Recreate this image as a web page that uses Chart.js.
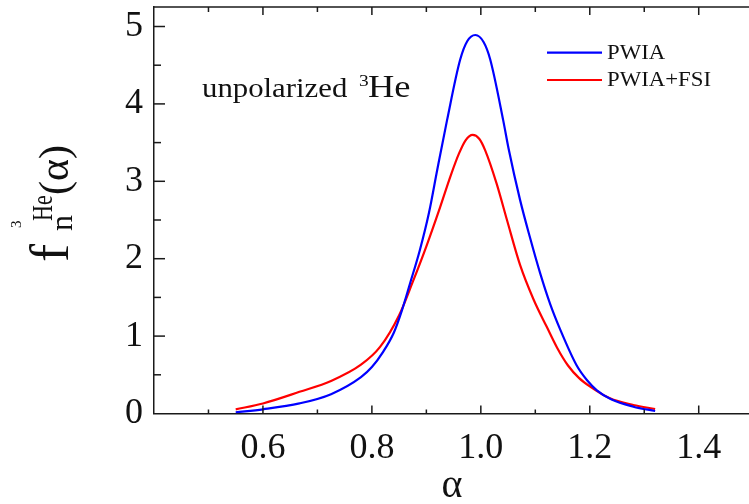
<!DOCTYPE html>
<html>
<head>
<meta charset="utf-8">
<script src="https://cdn.jsdelivr.net/npm/chart.js@4.4.1/dist/chart.umd.min.js"></script>
<style>
  html, body { margin: 0; padding: 0; background: #fff; }
  #wrap { width: 749px; height: 504px; }
</style>
</head>
<body>
<div id="wrap"><canvas id="chart"></canvas></div>
<script>
/* Data */

const seriesNames = ["PWIA", "PWIA+FSI"];

const alphaPwia = [0.55, 0.60, 0.667, 0.725, 0.78, 0.80, 0.82, 0.84, 0.855, 0.87, 0.888, 0.905, 0.92, 0.938, 0.962, 0.975, 0.99,
    1.005, 1.017, 1.041, 1.051, 1.072, 1.09, 1.109, 1.127, 1.146, 1.176, 1.195, 1.213, 1.24, 1.28, 1.32];
const fPwia = [0.015, 0.054, 0.13, 0.25, 0.47, 0.60, 0.79, 1.04, 1.33, 1.68, 2.11, 2.60, 3.15, 3.79, 4.57, 4.81, 4.89,
    4.80, 4.58, 3.79, 3.42, 2.76, 2.28, 1.81, 1.42, 1.08, 0.62, 0.43, 0.30, 0.18, 0.088, 0.032];

const alphaFsi = [0.55, 0.60, 0.667, 0.725, 0.78, 0.815, 0.85, 0.875, 0.90, 0.925, 0.945, 0.96, 0.972, 0.985, 0.997,
    1.008, 1.029, 1.048, 1.072, 1.097, 1.121, 1.14, 1.16, 1.18, 1.20, 1.237, 1.28, 1.32];
const fFsi = [0.054, 0.13, 0.28, 0.42, 0.63, 0.86, 1.27, 1.70, 2.16, 2.66, 3.08, 3.36, 3.53, 3.60, 3.55,
    3.40, 2.97, 2.50, 1.92, 1.47, 1.12, 0.85, 0.62, 0.46, 0.35, 0.196, 0.11, 0.058];

const xTickValues = [0.6, 0.8, 1.0, 1.2, 1.4];
const yTickValues = [0, 1, 2, 3, 4, 5];

const serif = "'Liberation Serif', 'DejaVu Serif', serif";
const axisColor = "#1a1a1a";

// the source picture is a bit wider than tall, so free text gets stretched
function stretchedText(ctx, text, x, y, font, sx, sy) {
    ctx.save();
    ctx.translate(x, y);
    ctx.scale(sx, sy);
    ctx.font = font;
    ctx.fillText(text, 0, 0);
    ctx.restore();
}

/* Inward ticks, top frame line, titles, legend and label */

const framePlugin = {
    id: "frame",
    afterDraw(chart) {
        const ctx = chart.ctx;
        const area = chart.chartArea;
        const xs = chart.scales.x;
        const ys = chart.scales.y;

        ctx.save();
        ctx.strokeStyle = axisColor;
        ctx.lineWidth = 1.5;

        ctx.beginPath();
        ctx.moveTo(area.left, area.top);
        ctx.lineTo(area.right, area.top);
        ctx.stroke();

        for (let i = 5; i <= 14; i++) {
            const px = xs.getPixelForValue(i / 10);
            const major = i % 2 === 0;
            ctx.beginPath();
            ctx.moveTo(px, area.bottom);
            ctx.lineTo(px, area.bottom - (major ? 8 : 4));
            ctx.moveTo(px, area.top);
            ctx.lineTo(px, area.top + (major ? 8 : 5));
            ctx.stroke();
        }

        for (let i = 1; i <= 10; i++) {
            const py = ys.getPixelForValue(i / 2);
            const major = i % 2 === 0;
            ctx.beginPath();
            ctx.moveTo(area.left, py);
            ctx.lineTo(area.left + (major ? 11 : 7), py);
            ctx.stroke();
        }

        // x title
        ctx.fillStyle = "#111";
        ctx.font = "40px " + serif;
        ctx.textAlign = "center";
        ctx.textBaseline = "alphabetic";
        ctx.fillText("α", 452, 497);

        // y title, rotated
        ctx.save();
        ctx.translate(68, 262);
        ctx.rotate(-Math.PI / 2);
        ctx.textAlign = "left";
        ctx.font = "54px " + serif;
        ctx.fillText("f", 0, 0);
        ctx.font = "32px " + serif;
        ctx.fillText("n", 31, 4);
        ctx.font = "15px " + serif;
        ctx.fillText("3", 34, -47);
        stretchedText(ctx, "He", 41, -16, "22px " + serif, 1, 1.35);
        ctx.font = "42px " + serif;
        ctx.fillText("(α)", 67, 0);
        ctx.restore();

        // annotation
        ctx.textAlign = "left";
        stretchedText(ctx, "unpolarized", 202, 97, "27px " + serif, 1.14, 1);
        stretchedText(ctx, "3", 359, 86, "17px " + serif, 1.14, 1);
        stretchedText(ctx, "He", 368, 97, "32px " + serif, 1.14, 1);

        // legend
        const legendY = [52.7, 80];
        ctx.textBaseline = "middle";
        chart.data.datasets.forEach((ds, i) => {
            ctx.strokeStyle = ds.borderColor;
            ctx.lineWidth = 2.2;
            ctx.beginPath();
            ctx.moveTo(547, legendY[i]);
            ctx.lineTo(602, legendY[i]);
            ctx.stroke();
            ctx.fillStyle = "#111";
            stretchedText(ctx, ds.label, 607, legendY[i] + 1, "20px " + serif, 1.14, 1);
        });

        ctx.restore();
    }
};

const chart = new Chart(document.querySelector("#chart"), {
    type: "line",
    data: {
        datasets: [
            {
                label: seriesNames[0],
                data: alphaPwia.map((a, i) => ({ x: a, y: fPwia[i] })),
                borderColor: "#0000ff",
                borderWidth: 2.2,
                pointRadius: 0,
                cubicInterpolationMode: "monotone",
                fill: false
            },
            {
                label: seriesNames[1],
                data: alphaFsi.map((a, i) => ({ x: a, y: fFsi[i] })),
                borderColor: "#ff0000",
                borderWidth: 2.2,
                pointRadius: 0,
                cubicInterpolationMode: "monotone",
                fill: false
            }
        ]
    },
    options: {
        responsive: true,
        maintainAspectRatio: false,
        animation: false,
        devicePixelRatio: 1,
        layout: {
            padding: { top: 7, right: 0, left: 0, bottom: 0 }
        },
        plugins: {
            legend: { display: false },
            tooltip: { enabled: false }
        },
        scales: {
            x: {
                type: "linear",
                min: 0.4,
                max: 1.4923,
                afterBuildTicks: scale => {
                    scale.ticks = xTickValues.map(v => ({ value: v }));
                },
                afterFit: scale => {
                    scale.height = 90.5;
                    scale.paddingLeft = 0;
                    scale.paddingRight = 0;
                },
                grid: { display: false, drawTicks: false },
                border: { display: true, color: axisColor, width: 1.5 },
                ticks: {
                    padding: 13,
                    color: "#111",
                    maxRotation: 0,
                    font: { family: serif, size: 36 },
                    callback: v => Number(v).toFixed(1)
                }
            },
            y: {
                min: 0,
                max: 5.252,
                afterBuildTicks: scale => {
                    scale.ticks = yTickValues.map(v => ({ value: v }));
                },
                afterFit: scale => {
                    scale.width = 154;
                    scale.paddingTop = 0;
                    scale.paddingBottom = 0;
                },
                grid: { display: false, drawTicks: false },
                border: { display: true, color: axisColor, width: 1.5 },
                ticks: {
                    padding: 11,
                    color: "#111",
                    font: { family: serif, size: 36 },
                    callback: v => String(v)
                }
            }
        }
    },
    plugins: [framePlugin]
});
</script>
</body>
</html>
